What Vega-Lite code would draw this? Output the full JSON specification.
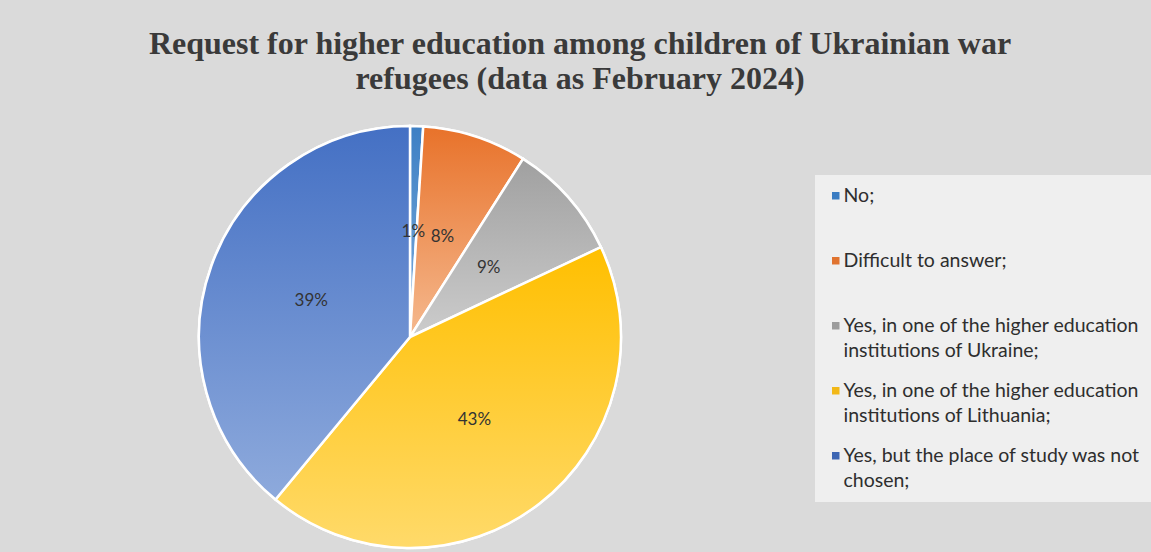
{
  "$schema": "https://vega.github.io/schema/vega-lite/v6.json",
  "autosize": {"type": "none"},
  "width": 820,
  "height": 422,
  "padding": {"left": 0, "top": 126, "right": 331, "bottom": 4},
  "background": "#dadada",
  "config": {
    "view": {"stroke": null},
    "style": {"guide-label": {"lineHeight": 25}}
  },
  "title": {
    "text": ["Request for higher education among children of Ukrainian war", "refugees (data as February 2024)"],
    "font": "Liberation Serif",
    "fontSize": 32,
    "fontWeight": "bold",
    "color": "#3a3a3a",
    "lineHeight": 35,
    "anchor": "middle",
    "dx": 170,
    "offset": 25
  },
  "data": {
    "values": [
      {"answer": "No;", "share": 0.01},
      {"answer": "Difficult to answer;", "share": 0.08},
      {"answer": "Yes, in one of the higher education institutions of Ukraine;", "share": 0.09},
      {"answer": "Yes, in one of the higher education institutions of Lithuania;", "share": 0.43},
      {"answer": "Yes, but the place of study was not chosen;", "share": 0.39}
    ]
  },
  "transform": [{"window": [{"op": "row_number", "as": "idx"}]}],
  "layer": [
    {
      "mark": {"type": "arc", "stroke": "white", "strokeWidth": 2.5},
      "encoding": {
        "theta": {"field": "share", "type": "quantitative", "stack": true},
        "order": {"field": "idx", "type": "quantitative"},
        "color": {
          "field": "answer",
          "type": "nominal",
          "sort": ["No;", "Difficult to answer;", "Yes, in one of the higher education institutions of Ukraine;", "Yes, in one of the higher education institutions of Lithuania;", "Yes, but the place of study was not chosen;"],
          "scale": {
            "domain": ["No;", "Difficult to answer;", "Yes, in one of the higher education institutions of Ukraine;", "Yes, in one of the higher education institutions of Lithuania;", "Yes, but the place of study was not chosen;"],
            "range": ["#3a7cc2", "#e0732f", "#9c9c9c", "#f2b817", "#3d66b3"]
          },
          "legend": {
            "orient": "none",
            "legendX": 815,
            "legendY": 49,
            "title": null,
            "fillColor": "#efefef",
            "padding": 11,
            "symbolType": "square",
            "symbolSize": 56,
            "symbolStrokeWidth": 0,
            "labelFont": "Lato",
            "labelFontSize": 19.5,
            "labelColor": "#2e2e2e",
            "labelLimit": 400,
            "labelOffset": -2,
            "rowPadding": 19,
            "labelExpr": "datum.label == 'No;' ? ['No;', ''] : datum.label == 'Difficult to answer;' ? ['Difficult to answer;', ''] : datum.label == 'Yes, but the place of study was not chosen;' ? ['Yes, but the place of study was not', 'chosen;'] : split(replace(datum.label, ' institutions', '|institutions'), '|')"
          }
        }
      }
    },
    {
      "mark": {"type": "arc", "stroke": "white", "strokeWidth": 2.5},
      "encoding": {
        "theta": {"field": "share", "type": "quantitative", "stack": true},
        "order": {"field": "idx", "type": "quantitative"},
        "color": {
          "condition": [
            {"test": "datum.answer == 'No;'", "value": {"gradient": "linear", "x1": 0, "y1": 0, "x2": 0, "y2": 1, "stops": [{"offset": 0, "color": "#3d7fc4"}, {"offset": 1, "color": "#7faedd"}]}},
            {"test": "datum.answer == 'Difficult to answer;'", "value": {"gradient": "linear", "x1": 0, "y1": 0, "x2": 0, "y2": 1, "stops": [{"offset": 0, "color": "#e8722a"}, {"offset": 1, "color": "#f5b98f"}]}},
            {"test": "datum.answer == 'Yes, in one of the higher education institutions of Ukraine;'", "value": {"gradient": "linear", "x1": 0, "y1": 0, "x2": 0, "y2": 1, "stops": [{"offset": 0, "color": "#a0a0a0"}, {"offset": 1, "color": "#cccccc"}]}},
            {"test": "datum.answer == 'Yes, in one of the higher education institutions of Lithuania;'", "value": {"gradient": "linear", "x1": 0, "y1": 0, "x2": 0, "y2": 1, "stops": [{"offset": 0, "color": "#ffbf00"}, {"offset": 1, "color": "#ffda6a"}]}}
          ],
          "value": {"gradient": "linear", "x1": 0, "y1": 0, "x2": 0, "y2": 1, "stops": [{"offset": 0, "color": "#4470c4"}, {"offset": 1, "color": "#8eaadc"}]}
        }
      }
    },
    {
      "mark": {"type": "text", "radius": 105, "font": "Lato", "fontSize": 17, "color": "#333333"},
      "encoding": {
        "theta": {"field": "share", "type": "quantitative", "stack": true},
        "order": {"field": "idx", "type": "quantitative"},
        "text": {"field": "share", "type": "quantitative", "format": ".0%"}
      }
    }
  ]
}
